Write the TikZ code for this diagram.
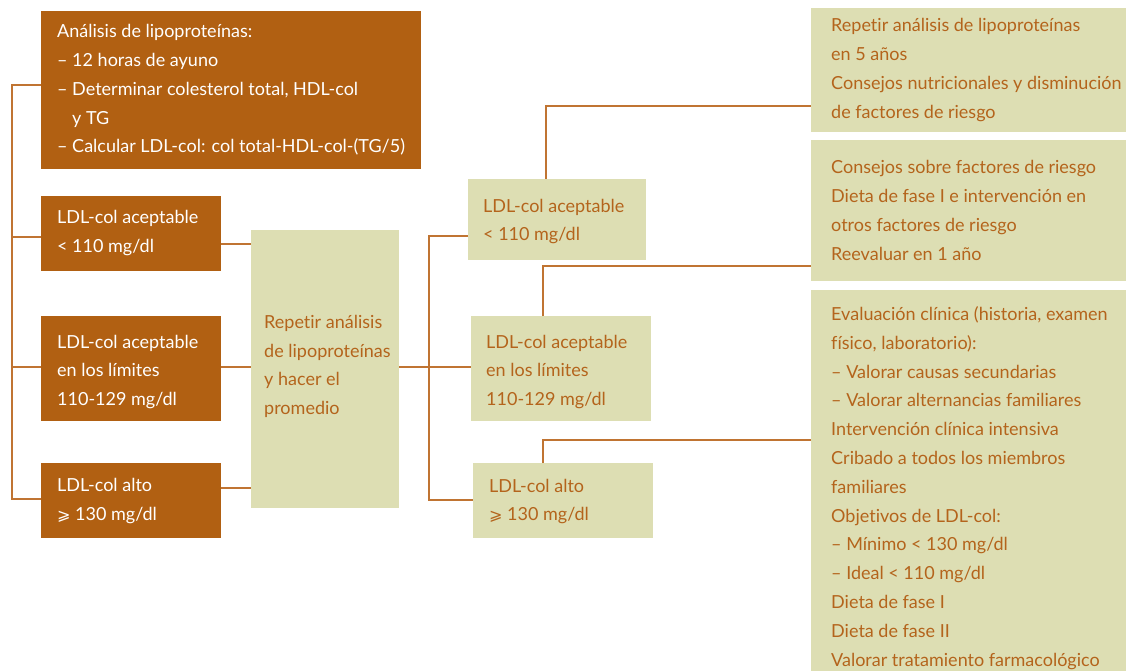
\documentclass[tikz,border=0pt]{standalone}
\usepackage{fontspec}
\setmainfont{Lato}[Ligatures=NoCommon]
\newfontfamily\symfnt{DejaVu Sans}
\definecolor{bbrown}{RGB}{177,96,18}
\definecolor{bgreen}{RGB}{221,222,179}
\definecolor{tbrown}{RGB}{180,100,28}
\definecolor{lbrown}{RGB}{192,116,50}
\newcommand{\geslant}{{\symfnt\fontsize{16}{28.8}\selectfont ⩾}}
\begin{document}
\begin{tikzpicture}[x=1pt,y=-1pt,
  bbox/.style={fill=bbrown, draw=none, inner sep=0pt, outer sep=0pt},
  gbox/.style={fill=bgreen, draw=none, inner sep=0pt, outer sep=0pt},
  wtxt/.style={text=white, align=left, inner sep=0pt, anchor=west, font=\fontsize{18}{28.8}\selectfont},
  btxt/.style={text=tbrown, align=left, inner sep=0pt, anchor=west, font=\fontsize{18}{28.8}\selectfont},
  conn/.style={draw=lbrown, line width=1.3pt}]
\useasboundingbox (0,0) rectangle (1126,671);
% boxes
\node[bbox, minimum width=380, minimum height=158] (A) at (231,90) {};
\node[bbox, minimum width=180, minimum height=75] (B) at (131,233.5) {};
\node[bbox, minimum width=180, minimum height=105] (C) at (131,368.5) {};
\node[bbox, minimum width=180, minimum height=75] (D) at (131,500.5) {};
\node[gbox, minimum width=148, minimum height=278] (E) at (325,369) {};
\node[gbox, minimum width=178, minimum height=81] (F) at (557,219.5) {};
\node[gbox, minimum width=180, minimum height=105] (G) at (561,368.5) {};
\node[gbox, minimum width=180, minimum height=75] (H) at (563,500.5) {};
\node[gbox, minimum width=315, minimum height=124] (I) at (968.5,70) {};
\node[gbox, minimum width=315, minimum height=141] (J) at (968.5,210.5) {};
\node[gbox, minimum width=315, minimum height=381] (K) at (968.5,480.5) {};
% texts
\node[wtxt] (At) at (57,90) {Análisis de lipoproteínas:\\– 12 horas de ayuno\\– Determinar colesterol total, HDL-col\\\hphantom{– }y TG\\– Calcular LDL-col: col total-HDL-col-(TG/5)};
\node[wtxt] (Bt) at (57,233) {LDL-col aceptable\\< 110 mg/dl};
\node[wtxt] (Ct) at (57,372) {LDL-col aceptable\\en los límites\\110-129 mg/dl};
\node[wtxt] (Dt) at (57,501) {LDL-col alto\\\geslant{} 130 mg/dl};
\node[btxt] (Et) at (264,366.5) {Repetir análisis\\de lipoproteínas\\y hacer el\\promedio};
\node[btxt] (Ft) at (483,221.5) {LDL-col aceptable\\< 110 mg/dl};
\node[btxt] (Gt) at (486,372) {LDL-col aceptable\\en los límites\\110-129 mg/dl};
\node[btxt] (Ht) at (489,501.5) {LDL-col alto\\\geslant{} 130 mg/dl};
\node[btxt] (It) at (831,70) {Repetir análisis de lipoproteínas\\en 5 años\\Consejos nutricionales y disminución\\de factores de riesgo};
\node[btxt] (Jt) at (831,210.5) {Consejos sobre factores de riesgo\\Dieta de fase I e intervención en\\otros factores de riesgo\\Reevaluar en 1 año};
\node[btxt] (Kt) at (831,488) {Evaluación clínica (historia, examen\\físico, laboratorio):\\– Valorar causas secundarias\\– Valorar alternancias familiares\\Intervención clínica intensiva\\Cribado a todos los miembros\\familiares\\Objetivos de LDL-col:\\– Mínimo < 130 mg/dl\\– Ideal < 110 mg/dl\\Dieta de fase I\\Dieta de fase II\\Valorar tratamiento farmacológico};
% connectors left
\coordinate (trunkL) at (12,0);
\coordinate (a1) at ([yshift=5pt]A.west);
\coordinate (b1) at ([yshift=-3.5pt]B.west);
\coordinate (c1) at ([yshift=1.5pt]C.west);
\coordinate (d1) at ([yshift=1.5pt]D.west);
\draw[conn] (a1) -- (a1 -| trunkL) -- (d1 -| trunkL) -- (d1);
\draw[conn] (b1 -| trunkL) -- (b1);
\draw[conn] (c1 -| trunkL) -- (c1);
% to E
\coordinate (b2) at ([yshift=-10.5pt]B.east);
\coordinate (c2) at ([yshift=1.5pt]C.east);
\coordinate (d2) at ([yshift=12.5pt]D.east);
\draw[conn] (b2) -- (b2 -| E.west);
\draw[conn] (c2) -- (c2 -| E.west);
\draw[conn] (d2) -- (d2 -| E.west);
% from E
\coordinate (trunkM) at (429,0);
\coordinate (e1) at ([yshift=2pt]E.east);
\coordinate (f1) at ([yshift=-16.5pt]F.west);
\coordinate (h1) at ([yshift=0.5pt]H.west);
\draw[conn] (f1) -- (f1 -| trunkM) -- (h1 -| trunkM) -- (h1);
\draw[conn] (e1) -- (e1 -| G.west);
% to right boxes
\coordinate (f2) at ([xshift=-11pt]F.north);
\coordinate (i1) at ([yshift=-36pt]I.west);
\draw[conn] (f2) |- (i1);
\coordinate (g2) at ([xshift=-18pt]G.north);
\coordinate (j1) at ([yshift=-55.5pt]J.west);
\draw[conn] (g2) |- (j1);
\coordinate (h2) at ([xshift=-20pt]H.north);
\coordinate (k1) at ([yshift=40.5pt]K.west);
\draw[conn] (h2) |- (k1);
\end{tikzpicture}
\end{document}
